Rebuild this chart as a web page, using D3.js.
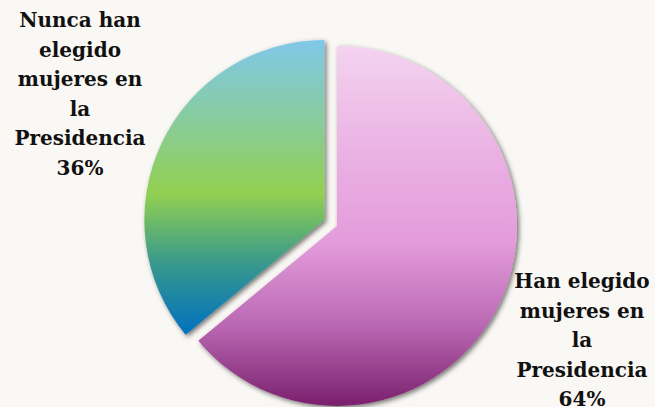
<!DOCTYPE html>
<html>
<head>
<meta charset="utf-8">
<script src="https://cdn.jsdelivr.net/npm/d3@7"></script>
<style>
  html, body { margin: 0; padding: 0; background: #faf8f4; }
  svg { display: block; }
  .lbl { font-family: "DejaVu Serif", serif; font-weight: bold; font-size: 20px; fill: #111; }
</style>
</head>
<body>
<div id="chart-area"></div>
<script>

// DATA
let categories = ["Han elegido mujeres en la Presidencia", "Nunca han elegido mujeres en la Presidencia"];
let values = [64, 36];
let labelLines = [
	["Han elegido", "mujeres en", "la", "Presidencia", "64%"],
	["Nunca han", "elegido", "mujeres en", "la", "Presidencia", "36%"]
];

// CHART AREA
let width = 655,
	height = 407,
	cx = 337, cy = 226, radius = 180;

let svg = d3.select("#chart-area").append("svg")
	.attr("width", width)
	.attr("height", height);

svg.append("rect").attr("width", width).attr("height", height).attr("fill", "#faf8f4");

let defs = svg.append("defs");

// gradients
let gradStops = [
	[[0, "#f4d3f0"], [0.3, "#eab1e3"], [0.55, "#e39bda"], [0.78, "#b967b2"], [1, "#7a1f6d"]],
	[[0, "#80c8ea"], [0.28, "#88cc9a"], [0.52, "#92d050"], [0.75, "#3a9a8a"], [1, "#0070c0"]]
];
gradStops.forEach(function(stops, i) {
	let g = defs.append("linearGradient")
		.attr("id", "grad" + i)
		.attr("x1", 0).attr("y1", 0).attr("x2", 0).attr("y2", 1);
	stops.forEach(function(s) {
		g.append("stop").attr("offset", s[0]).attr("stop-color", s[1]);
	});
});

let shadow = defs.append("filter").attr("id", "shadow")
	.attr("x", "-10%").attr("y", "-10%").attr("width", "130%").attr("height", "130%");
shadow.append("feDropShadow")
	.attr("dx", 2).attr("dy", 2)
	.attr("stdDeviation", 2.5)
	.attr("flood-color", "#000")
	.attr("flood-opacity", 0.55);

// PIE
let pie = d3.pie().sort(null).startAngle(0).endAngle(2 * Math.PI);
let arc = d3.arc().innerRadius(0).outerRadius(radius);
let explode = [0, 14];

let g = svg.append("g").attr("transform", "translate(" + cx + "," + cy + ")");

g.selectAll(".slice")
	.data(pie(values))
	.enter()
	.append("path")
	.attr("class", "slice")
	.attr("d", arc)
	.attr("fill", (d, i) => "url(#grad" + i + ")")
	.attr("filter", "url(#shadow)")
	.attr("transform", function(d, i) {
		let mid = (d.startAngle + d.endAngle) / 2;
		return "translate(" + (explode[i] * Math.sin(mid)) + "," + (-explode[i] * Math.cos(mid)) + ")";
	});

// LABELS
let labelPos = [{x: 582, y: 288}, {x: 80, y: 27}];
let lineHeight = 29.6;

labelLines.forEach(function(lines, i) {
	let t = svg.append("text")
		.attr("class", "lbl")
		.attr("text-anchor", "middle");
	lines.forEach(function(l, j) {
		t.append("tspan")
			.attr("x", labelPos[i].x)
			.attr("y", labelPos[i].y + j * lineHeight)
			.text(l);
	});
});

</script>
</body>
</html>
